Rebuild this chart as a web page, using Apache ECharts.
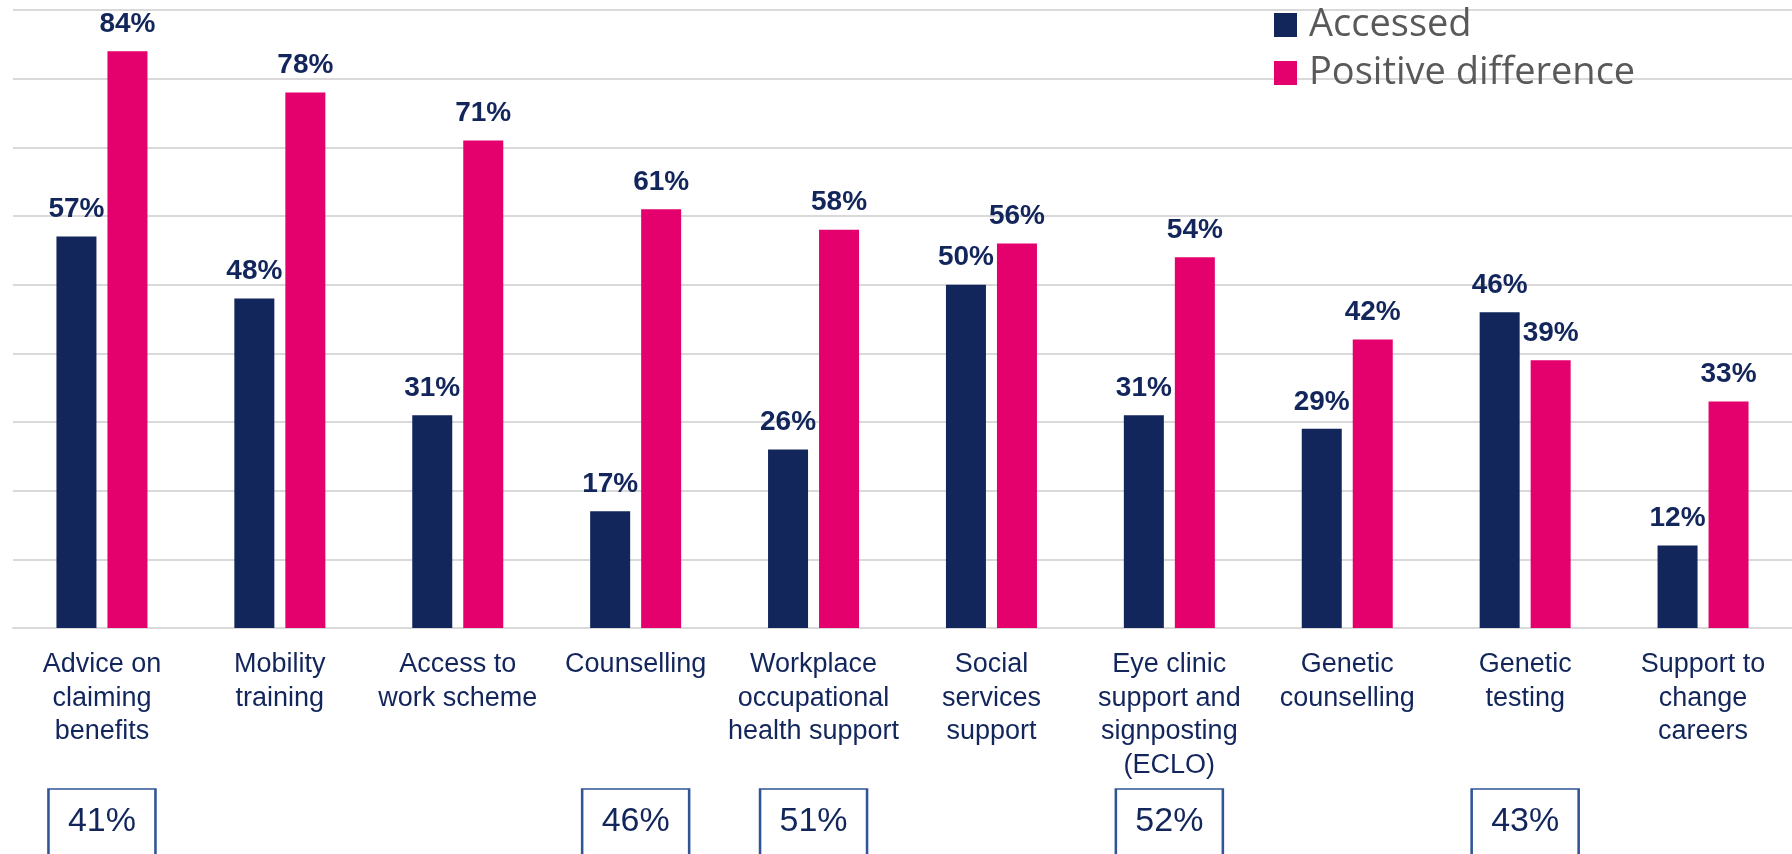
<!DOCTYPE html>
<html>
<head>
<meta charset="utf-8">
<script src="https://cdn.jsdelivr.net/npm/echarts@6/dist/echarts.min.js"></script>
<style>
  html, body { margin: 0; padding: 0; background: #fff; }
  #chart { width: 1792px; height: 854px; }
</style>
</head>
<body>
<div id="chart"></div>
<script>
const categories = [
  'Advice on\nclaiming\nbenefits',
  'Mobility\ntraining',
  'Access to\nwork scheme',
  'Counselling',
  'Workplace\noccupational\nhealth support',
  'Social\nservices\nsupport',
  'Eye clinic\nsupport and\nsignposting\n(ECLO)',
  'Genetic\ncounselling',
  'Genetic\ntesting',
  'Support to\nchange\ncareers'
]
const accessed = [57, 48, 31, 17, 26, 50, 31, 29, 46, 12]
const positiveDiff = [84, 78, 71, 61, 58, 56, 54, 42, 39, 33]
// boxed figures shown under some of the categories
const boxIndex = [0, 3, 4, 6, 8]
const boxValues = [41, 46, 51, 52, 43]

const navy = '#12265C'
const pink = '#E4006D'
const arial = "'Liberation Sans', Arial, sans-serif"

const chart = echarts.init(document.getElementById('chart'), null, { renderer: 'canvas' })

const barLabel = {
  show: true,
  position: 'top',
  align: 'center',
  distance: 13,
  formatter: '{c}%',
  fontFamily: arial,
  fontWeight: 'bold',
  fontSize: 28,
  color: navy
}

const option = {
  animation: false,
  color: [navy, pink],
  legend: {
    orient: 'vertical',
    left: 1274,
    top: 6,
    padding: 0,
    itemGap: 10,
    itemWidth: 23,
    itemHeight: 24,
    icon: 'rect',
    data: ['Accessed', 'Positive difference'],
    textStyle: {
      fontFamily: "'Open Sans', sans-serif",
      fontSize: 38,
      lineHeight: 38,
      color: '#595959',
      padding: [0, 0, 0, 7]
    }
  },
  grid: [
    { left: 13, right: -4, top: 10, bottom: 226 },
    { left: 13, right: -4, top: 790, height: 66 }
  ],
  xAxis: [{
    type: 'category',
    gridIndex: 0,
    data: categories,
    axisTick: { show: false },
    axisLine: { lineStyle: { color: '#D9D9D9', width: 2 } },
    axisLabel: {
      interval: 0,
      margin: 20,
      fontFamily: arial,
      fontSize: 27,
      lineHeight: 33.5,
      color: navy
    }
  }, {
    type: 'category',
    gridIndex: 1,
    data: categories,
    show: false
  }],
  yAxis: [{
    type: 'value',
    gridIndex: 0,
    min: 0,
    max: 90,
    interval: 10,
    axisLabel: { show: false },
    axisLine: { show: false },
    axisTick: { show: false },
    splitLine: { lineStyle: { color: '#D9D9D9', width: 2 } }
  }, {
    type: 'value',
    gridIndex: 1,
    min: 0,
    max: 1,
    show: false
  }],
  series: [{
    name: 'Accessed',
    type: 'bar',
    data: accessed,
    barWidth: 40,
    barGap: '27.5%',
    label: barLabel
  }, {
    name: 'Positive difference',
    type: 'bar',
    data: positiveDiff,
    barWidth: 40,
    label: barLabel
  }, {
    name: 'boxes',
    type: 'scatter',
    xAxisIndex: 1,
    yAxisIndex: 1,
    symbol: 'rect',
    symbolSize: [107, 66],
    silent: true,
    itemStyle: { color: '#fff', borderColor: '#2F5597', borderWidth: 2, opacity: 1 },
    label: {
      show: true,
      position: 'inside',
      formatter: p => boxValues[p.dataIndex] + '%',
      fontFamily: arial,
      fontSize: 34,
      color: navy
    },
    data: boxIndex.map(i => [i, 0.5])
  }]
}

chart.setOption(option)
</script>
</body>
</html>
